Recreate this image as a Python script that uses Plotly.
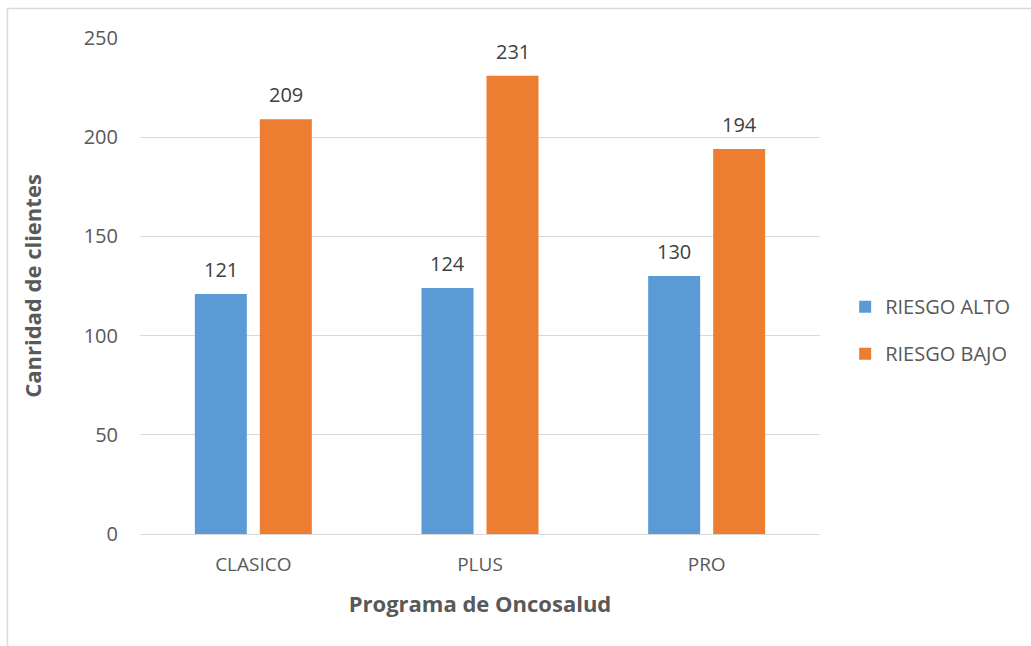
import plotly.graph_objects as go

programas = ["CLASICO", "PLUS", "PRO"]
riesgo_alto = [121, 124, 130]
riesgo_bajo = [209, 231, 194]
series_names = ["RIESGO ALTO", "RIESGO BAJO"]
y_ticks = [0, 50, 100, 150, 200, 250]

FONT = "'Open Sans', sans-serif"
TXT = "#595959"
BARGAP = 0.4265
# each bar's centre sits half a slot away from the category centre
SLOT_OFFSET = (1 - BARGAP) / 4

fig = go.Figure()
fig.add_trace(go.Bar(x=programas, y=riesgo_alto, name=series_names[0],
                     marker=dict(color="#5B9BD5", line=dict(width=0)),
                     legendgroup="a"))
fig.add_trace(go.Bar(x=programas, y=riesgo_bajo, name=series_names[1],
                     marker=dict(color="#ED7D31", line=dict(width=0)),
                     legendgroup="b"))

# value labels above each bar
annotations = []
for values, off in ((riesgo_alto, -SLOT_OFFSET), (riesgo_bajo, SLOT_OFFSET)):
    for i, v in enumerate(values):
        annotations.append(dict(x=i + off, y=v, xref="x", yref="y", text=str(v),
                                showarrow=False, yanchor="bottom", yshift=9,
                                font=dict(family=FONT, size=20, color="#404040")))

fig.update_layout(
    width=1031, height=646,
    margin=dict(l=140, r=211, t=38, b=112),
    paper_bgcolor="white", plot_bgcolor="white",
    barmode="group", bargap=BARGAP, bargroupgap=0.2,
    font=dict(family=FONT, size=20, color=TXT),
    showlegend=True,
    legend=dict(x=1.037, y=0.411, xanchor="left", yanchor="middle",
                traceorder="grouped", tracegroupgap=18,
                font=dict(family=FONT, size=20, color=TXT)),
    annotations=annotations,
    xaxis=dict(showgrid=False, showline=True, linecolor="#d9d9d9", linewidth=1,
               ticks="", ticklabelstandoff=13,
               tickfont=dict(family=FONT, size=19, color=TXT),
               title=dict(text="<b>Programa de Oncosalud</b>", standoff=20,
                          font=dict(family=FONT, size=22, color=TXT))),
    yaxis=dict(range=[0, 250], tickvals=y_ticks, showgrid=True,
               gridcolor="#d9d9d9", gridwidth=1, zeroline=False,
               showline=False, ticks="", ticklabelstandoff=21,
               tickfont=dict(family=FONT, size=20, color=TXT),
               title=dict(text="<b>Canridad de clientes</b>", standoff=35,
                          font=dict(family=FONT, size=22, color=TXT))),
    shapes=[dict(type="rect", xref="paper", yref="paper",
                 x0=-0.1949, x1=1.32, y0=-0.24, y1=1.0595,
                 line=dict(color="#d9d9d9", width=1.5), layer="below")],
)

fig.write_html("out.html")
